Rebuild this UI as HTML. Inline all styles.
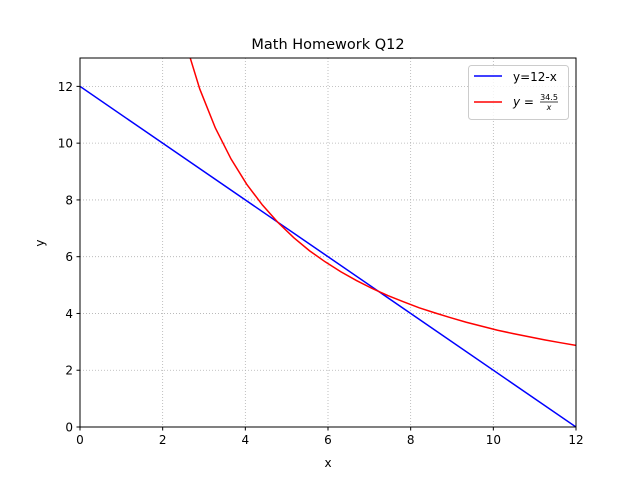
<!DOCTYPE html>
<html><head><meta charset="utf-8"><style>
body{margin:0;background:#fff}
svg text{font-family:"DejaVu Sans","Liberation Sans",sans-serif;fill:#000}
</style></head><body>
<svg id="chart" width="640" height="480" xmlns="http://www.w3.org/2000/svg">
<defs><clipPath id="clip"><rect x="80" y="58" width="496" height="369"/></clipPath></defs>
<rect width="640" height="480" fill="#fff"/>
<g id="grid"></g>
<g id="series" clip-path="url(#clip)"></g>
<rect x="80" y="58" width="496" height="369" fill="none" stroke="#000" stroke-width="1"/>
<g id="ticks"></g>
<text x="328" y="49" font-size="14.5" text-anchor="middle">Math Homework Q12</text>
<text x="328" y="467" font-size="12" text-anchor="middle">x</text>
<text x="44" y="243" font-size="12" text-anchor="middle" transform="rotate(-90 44 243)">y</text>
<g>
<rect x="468.5" y="65.5" width="100" height="54" rx="3" fill="#fff" fill-opacity="0.8" stroke="#ccc"/>
<line x1="474" y1="76" x2="502" y2="76" stroke="blue" stroke-width="1.5"/>
<text x="513" y="81" font-size="12">y=12-x</text>
<line x1="474" y1="102" x2="502" y2="102" stroke="red" stroke-width="1.5"/>
<text x="513" y="106" font-size="12"><tspan font-style="italic">y</tspan> = </text>
<text x="549" y="100" font-size="8" text-anchor="middle">34.5</text>
<line x1="540" y1="102" x2="558" y2="102" stroke="#000" stroke-width="0.7"/>
<text x="549" y="110" font-size="8" font-style="italic" text-anchor="middle">x</text>
</g>
</svg>
<script>
const xTicks=[0,2,4,6,8,10,12];
const yTicks=[0,2,4,6,8,10,12];
const lineX=[0,12];
const lineY=[12,0];
const curveX=[1,1.379,1.759,2.138,2.517,2.897,3.276,3.655,4.034,4.414,4.793,5.172,5.552,5.931,6.310,6.690,7.069,7.448,7.828,8.207,8.586,8.966,9.345,9.724,10.103,10.483,10.862,11.241,11.621,12];
const curveY=[34.5,25.02,19.61,16.14,13.71,11.91,10.53,9.44,8.55,7.82,7.20,6.67,6.21,5.82,5.47,5.16,4.88,4.63,4.41,4.20,4.02,3.85,3.69,3.55,3.41,3.29,3.18,3.07,2.97,2.875];
const NS='http://www.w3.org/2000/svg';
const sx=v=>80+v*(496/12), sy=v=>427-v*(369/13);
function mk(t,a,p){const e=document.createElementNS(NS,t);for(const k in a)e.setAttribute(k,a[k]);p.appendChild(e);return e;}
const grid=document.getElementById('grid'),ticks=document.getElementById('ticks'),ser=document.getElementById('series');
xTicks.forEach(v=>{const x=sx(v);
 const g=mk('line',{x1:x,y1:58,x2:x,y2:427,stroke:'#b0b0b0','stroke-width':0.8,'stroke-dasharray':'1,2'},grid);
 
 
 mk('line',{x1:x,y1:427,x2:x,y2:430.5,stroke:'#000'},ticks);
 const t=mk('text',{x:x,y:444,'font-size':12,'text-anchor':'middle'},ticks);t.textContent=v;
 
 });
yTicks.forEach(v=>{const y=sy(v);
 const g=mk('line',{x1:80,y1:y,x2:576,y2:y,stroke:'#b0b0b0','stroke-width':0.8,'stroke-dasharray':'1,2'},grid);
 
 
 mk('line',{x1:76.5,y1:y,x2:80,y2:y,stroke:'#000'},ticks);
 const t=mk('text',{x:73,y:y+4.5,'font-size':12,'text-anchor':'end'},ticks);t.textContent=v;
 
 });
const l=mk('polyline',{points:lineX.map((x,i)=>sx(x)+','+sy(lineY[i])).join(' '),fill:'none',stroke:'blue','stroke-width':1.5},ser);


const c=mk('polyline',{points:curveX.map((x,i)=>sx(x)+','+sy(curveY[i])).join(' '),fill:'none',stroke:'red','stroke-width':1.5},ser);


</script>
</body></html>
